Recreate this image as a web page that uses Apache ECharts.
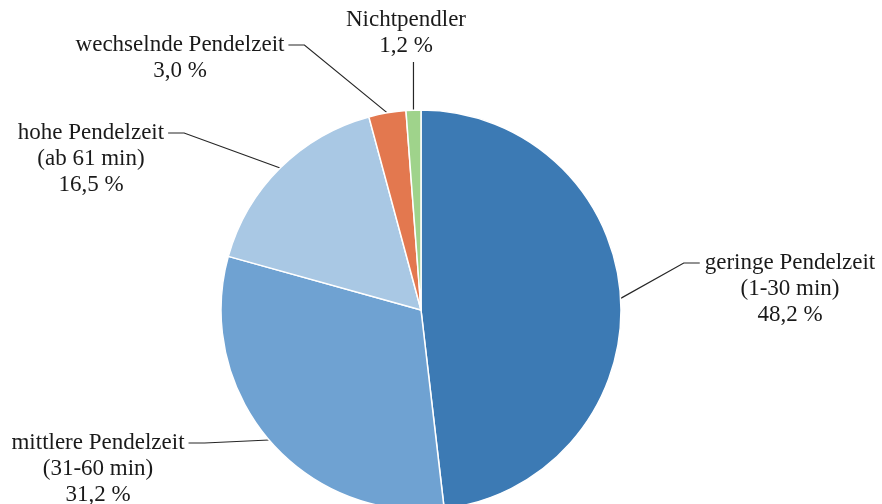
<!DOCTYPE html>
<html><head><meta charset="utf-8">
<script src="https://cdn.jsdelivr.net/npm/echarts@6/dist/echarts.min.js"></script>
<style>html,body{margin:0;padding:0;background:#fff}#c{width:882px;height:504px}</style>
</head><body><div id="c"></div>
<script>
// ---- data ----
const categories = ['geringe Pendelzeit', 'mittlere Pendelzeit', 'hohe Pendelzeit', 'wechselnde Pendelzeit', 'Nichtpendler'];
const ranges = ['(1-30 min)', '(31-60 min)', '(ab 61 min)', '', ''];
const shares = [48.2, 31.2, 16.5, 3.0, 1.2];
// ---- styles / layout ----
const colors = ['#3c7ab4', '#6fa2d2', '#a9c8e4', '#e3784f', '#9fd38b'];
// [label centre x, label top y, side where the leader line attaches]
const labelPos = [[790, 250, 'left'], [98, 430, 'right'], [91, 120, 'right'], [180, 32, 'right'], [406, 7, 'bottom']];
const LH = 26;

const chart = echarts.init(document.getElementById('c'), null, {renderer: 'canvas'});
const data = categories.map((c, i) => ({
  name: c,
  value: shares[i],
  itemStyle: {color: colors[i]}
}));

chart.setOption({
  animation: false,
  series: [{
    type: 'pie',
    center: [421, 310],
    radius: 200,
    startAngle: 90,
    clockwise: true,
    avoidLabelOverlap: false,
    data: data,
    itemStyle: {borderColor: '#ffffff', borderWidth: 1.5},
    label: {
      show: true,
      position: 'outside',
      alignTo: 'none',
      fontFamily: '"Times New Roman", "Liberation Serif", serif',
      fontSize: 23,
      lineHeight: LH,
      color: '#1a1a1a',
      formatter: p => {
        const i = p.dataIndex;
        const v = shares[i].toFixed(1).replace('.', ',') + ' %';
        return ranges[i] ? p.name + '\n' + ranges[i] + '\n' + v : p.name + '\n' + v;
      }
    },
    labelLine: {show: true, length: 10, length2: 10, lineStyle: {color: '#262626', width: 1.2}},
    emphasis: {disabled: true},
    labelLayout: function (params) {
      const i = params.dataIndex;
      const [cx, top, side] = labelPos[i];
      const w = params.labelRect.width;
      const h = params.labelRect.height;
      const start = params.labelLinePoints ? params.labelLinePoints[0] : null;
      let pts;
      if (side === 'left') {
        const e = [cx - w / 2 - 5, top + LH / 2];
        pts = [start, [e[0] - 16, e[1]], e];
      } else if (side === 'right') {
        const e = [cx + w / 2 + 4, top + LH / 2];
        pts = [start, [e[0] + 16, e[1]], e];
      } else {
        const by = top + h + 3;
        pts = [start, [start[0], by], [start[0], by]];
      }
      const res = {x: cx, y: top, align: 'center', verticalAlign: 'top'};
      if (start) res.labelLinePoints = pts;
      return res;
    }
  }]
});
</script>
</body></html>
